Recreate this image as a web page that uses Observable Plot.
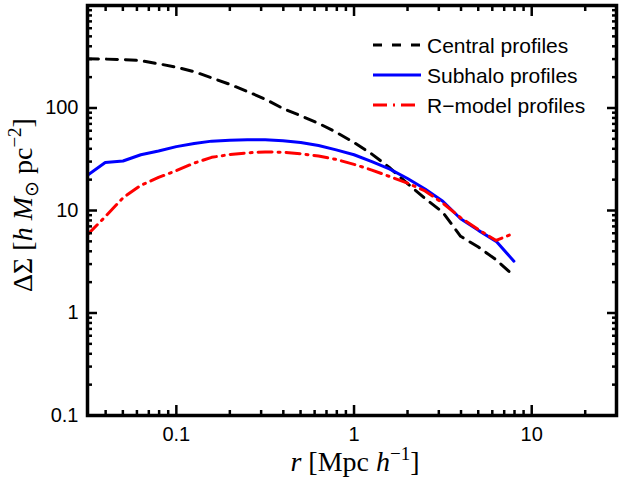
<!DOCTYPE html>
<html><head><meta charset="utf-8">
<script src="https://cdn.jsdelivr.net/npm/d3@7"></script>
<script src="https://cdn.jsdelivr.net/npm/@observablehq/plot@0.6"></script>
<style>body{margin:0;background:#fff}</style>
</head><body><div id="chart"></div>
<script>
// radial bins (Mpc/h)
const radius = [0.0316,0.0398,0.0501,0.0631,0.0794,0.1,0.126,0.158,0.2,0.251,0.316,0.398,0.501,0.631,0.794,1.0,1.26,1.58,2.0,2.51,3.16,3.98,5.01,6.31,7.94];
// Delta Sigma values
const central = [302,300,297,290,270,250,226,197,170,145,122,99,84,71,58,46,35.5,26.3,18.3,13.1,9.6,5.6,4.4,3.3,2.3];
const subhalo = [22,29.4,30.4,35,38,42,45,47.5,48.5,49,49,48,46,43,39,35,30,25.5,20.5,16.2,12.3,8.3,6.4,5.0,3.2];
const rmodel  = [5.8,8.7,13.3,17.6,21,24.5,29,33,35.2,36.5,37.3,37,35.8,34,31.5,28.2,24.8,21.5,18.5,15.5,11.8,8.5,6.5,5.1,6.0];
const seriesNames = ["Central profiles","Subhalo profiles","R\u2212model profiles"];
const xTickLabels = [0.1, 1, 10];
const yTickLabels = [0.1, 1, 10, 100];
const xMajor = [0.1, 1, 10];
const yMajor = [0.1, 1, 10, 100, 1000];
const xMinor = [0.04,0.05,0.06,0.07,0.08,0.09,0.2,0.3,0.4,0.5,0.6,0.7,0.8,0.9,2,3,4,5,6,7,8,9,20,30];
const yMinor = [0.2,0.3,0.4,0.5,0.6,0.7,0.8,0.9,2,3,4,5,6,7,8,9,20,30,40,50,60,70,80,90,200,300,400,500,600,700,800,900];

const rows = (vals) => radius.map((r, i) => ({r, v: vals[i]}));
const tk = {stroke: "black", strokeWidth: 2.5, fill: "none", label: null};
const styles = [
  {stroke: "black", strokeWidth: 3, strokeDasharray: "11,8"},
  {stroke: "#0000ff", strokeWidth: 3},
  {stroke: "#ff0000", strokeWidth: 3, strokeDasharray: "14,6,2,6"}
];

const svgNode = Plot.plot({
  width: 619, height: 481,
  marginLeft: 87, marginRight: 3, marginTop: 5, marginBottom: 66,
  style: {fontFamily: "'Liberation Sans', Arial, sans-serif", fontSize: "20px", background: "white", color: "black"},
  x: {type: "log", domain: [Math.pow(10,-1.5), 30]},
  y: {type: "log", domain: [0.1, 1000]},
  marks: [
    Plot.line(rows(central), {x: "r", y: "v", clip: true, ...styles[0]}),
    Plot.line(rows(subhalo), {x: "r", y: "v", clip: true, ...styles[1]}),
    Plot.line(rows(rmodel), {x: "r", y: "v", clip: true, ...styles[2]}),
    Plot.axisX(xMajor, {anchor: "bottom", tickSize: 10, dy: -10, ...tk}),
    Plot.axisX(xMinor, {anchor: "bottom", tickSize: 5, dy: -5, ...tk}),
    Plot.axisX(xMajor, {anchor: "top", tickSize: 10, dy: 10, ...tk}),
    Plot.axisX(xMinor, {anchor: "top", tickSize: 5, dy: 5, ...tk}),
    Plot.axisY(yMajor, {anchor: "left", tickSize: 10, dx: 10, ...tk}),
    Plot.axisY(yMinor, {anchor: "left", tickSize: 5, dx: 5, ...tk}),
    Plot.axisY(yMajor, {anchor: "right", tickSize: 10, dx: -10, ...tk}),
    Plot.axisY(yMinor, {anchor: "right", tickSize: 5, dx: -5, ...tk}),
    Plot.axisX(xTickLabels, {anchor: "bottom", tickSize: 0, tickPadding: 11, label: null, fontSize: 20, tickFormat: d => String(d)}),
    Plot.axisY(yTickLabels, {anchor: "left", tickSize: 0, tickPadding: 9, label: null, fontSize: 20, tickFormat: d => String(d)}),
    Plot.frame({stroke: "black", strokeWidth: 3.5})
  ]
});
document.getElementById("chart").appendChild(svgNode);

const svg = d3.select(svgNode);
const serif = "'Liberation Serif', 'Times New Roman', serif";
// x label
const xl = svg.append("text").attr("x", 355).attr("y", 471).attr("text-anchor", "middle")
  .attr("font-family", serif).attr("font-size", 28).attr("fill", "black");
xl.append("tspan").attr("font-style", "italic").text("r");
xl.append("tspan").text(" [Mpc ");
xl.append("tspan").attr("font-style", "italic").text("h");
xl.append("tspan").attr("font-size", 19).attr("dy", -11).text("\u22121");
xl.append("tspan").attr("dy", 11).text("]");
// y label
const yl = svg.append("text").attr("transform", "translate(32,205) rotate(-90)").attr("text-anchor", "middle")
  .attr("font-family", serif).attr("font-size", 28).attr("fill", "black");
yl.append("tspan").text("\u0394\u03a3 [");
yl.append("tspan").attr("font-style", "italic").text("h M");
yl.append("tspan").attr("font-size", 19).attr("dy", 6).attr("font-family", "'DejaVu Sans', sans-serif").text("\u2299");
yl.append("tspan").attr("dy", -6).text(" pc");
yl.append("tspan").attr("font-size", 19).attr("dy", -11).text("\u22122");
yl.append("tspan").attr("dy", 11).text("]");

// legend
const lg = svg.append("g").attr("text-anchor", "start");
seriesNames.forEach((name, i) => {
  const y = 45 + i * 30;
  const s = styles[i];
  lg.append("line").attr("x1", 373).attr("x2", 421).attr("y1", y).attr("y2", y)
    .attr("stroke", s.stroke).attr("stroke-width", s.strokeWidth)
    .attr("stroke-dasharray", i === 0 ? "9,10" : (s.strokeDasharray || null));
  lg.append("text").attr("x", 427).attr("y", y + 8).attr("font-size", 21).attr("text-anchor", "start")
    .attr("font-family", "'Liberation Sans', Arial, sans-serif").attr("fill", "black").text(name);
});
</script>
</body></html>
